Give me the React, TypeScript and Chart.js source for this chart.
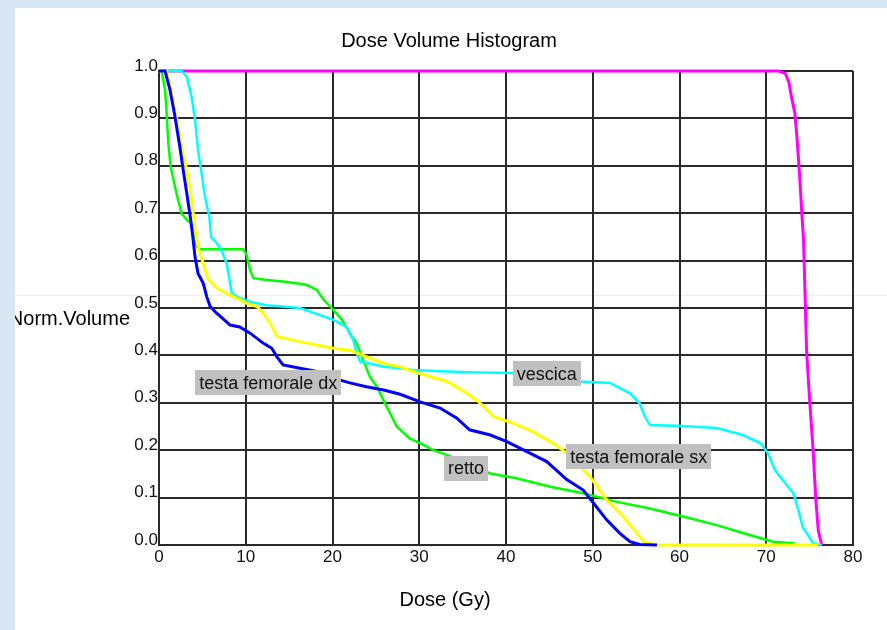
import React, { useEffect, useRef } from "react";
import { Chart, registerables } from "chart.js";

Chart.register(...registerables);

const chartTitle = "Dose Volume Histogram";
const xAxisTitle = "Dose (Gy)";
const yAxisTitle = "Norm.Volume";

const xTicks = [0, 10, 20, 30, 40, 50, 60, 70, 80];
const yTicks = [0, 0.1, 0.2, 0.3, 0.4, 0.5, 0.6, 0.7, 0.8, 0.9, 1.0];

// testa femorale dx (blue)
const dxDose = [0, 0.7, 1.27, 1.84, 2.4, 2.8, 3.2, 3.6, 3.9, 4.15, 4.5, 5.1, 5.5, 5.9, 6.65, 8.2, 9.3, 10.5, 12.0, 13.0, 13.6, 14.3, 16.25, 18.2, 20.1, 22.0, 23.9, 25.9, 27.8, 30.1, 32.4, 34.3, 35.8, 38.2, 40.1, 42.4, 44.7, 47.0, 48.9, 50.1, 51.6, 53.1, 54.3, 55.4, 57.4];
const dxVol = [1, 1, 0.96, 0.904, 0.84, 0.79, 0.742, 0.693, 0.65, 0.608, 0.573, 0.552, 0.524, 0.503, 0.489, 0.464, 0.46, 0.447, 0.426, 0.415, 0.397, 0.38, 0.373, 0.366, 0.352, 0.342, 0.334, 0.327, 0.318, 0.302, 0.289, 0.268, 0.243, 0.232, 0.218, 0.197, 0.176, 0.138, 0.116, 0.088, 0.053, 0.025, 0.007, 0.001, 0];

// testa femorale sx (yellow)
const sxDose = [0, 0.9, 1.45, 2.0, 2.6, 3.2, 3.6, 3.9, 4.15, 4.5, 5.1, 5.7, 6.65, 7.8, 8.95, 10.1, 11.3, 12.0, 12.8, 13.6, 14.3, 16.25, 18.2, 20.1, 22.0, 25.9, 27.8, 29.3, 33.2, 35.5, 37.0, 38.5, 40.8, 43.1, 45.4, 47.0, 49.7, 51.6, 53.5, 55.1, 56.0, 57.4, 76.0];
const sxVol = [1, 1, 0.953, 0.904, 0.84, 0.79, 0.749, 0.707, 0.665, 0.629, 0.594, 0.559, 0.542, 0.531, 0.521, 0.51, 0.503, 0.489, 0.468, 0.44, 0.437, 0.429, 0.422, 0.415, 0.411, 0.383, 0.376, 0.366, 0.345, 0.32, 0.3, 0.271, 0.257, 0.239, 0.215, 0.194, 0.144, 0.095, 0.06, 0.025, 0.005, 0, 0];

// vescica (cyan)
const vesDose = [0, 2.6, 3.2, 3.75, 4.15, 4.5, 4.9, 5.3, 5.8, 6.0, 6.65, 7.2, 7.8, 8.2, 8.4, 9.3, 10.5, 12.4, 14.3, 16.25, 18.6, 20.1, 21.6, 22.4, 22.8, 23.2, 24.3, 25.9, 27.8, 29.3, 33.2, 37.0, 40.8, 44.7, 48.5, 52.0, 54.3, 55.4, 56.0, 56.6, 60.4, 64.3, 67.3, 69.3, 70.2, 71.0, 71.9, 73.1, 73.7, 74.2, 75.4, 76.4];
const vesVol = [1, 1, 0.988, 0.946, 0.897, 0.833, 0.785, 0.735, 0.693, 0.65, 0.637, 0.622, 0.594, 0.552, 0.531, 0.521, 0.513, 0.506, 0.503, 0.5, 0.485, 0.475, 0.46, 0.432, 0.404, 0.387, 0.383, 0.376, 0.373, 0.369, 0.366, 0.364, 0.363, 0.356, 0.345, 0.342, 0.32, 0.299, 0.271, 0.253, 0.251, 0.247, 0.232, 0.215, 0.194, 0.158, 0.137, 0.11, 0.074, 0.038, 0.004, 0];

// retto (green)
const rettoDose = [0, 0.3, 0.7, 0.9, 1.07, 1.35, 1.84, 2.2, 2.6, 3.2, 3.75, 4.35, 4.7, 9.7, 10.1, 10.5, 10.9, 12.4, 14.3, 17.0, 18.2, 19.0, 19.9, 21.1, 22.0, 22.8, 23.55, 24.3, 25.1, 26.25, 27.4, 28.9, 30.5, 31.6, 33.2, 38.2, 41.2, 45.1, 48.9, 52.8, 56.6, 60.4, 64.3, 68.1, 70.8, 73.3];
const rettoVol = [1, 1, 0.96, 0.904, 0.848, 0.798, 0.756, 0.728, 0.7, 0.686, 0.679, 0.629, 0.624, 0.624, 0.612, 0.58, 0.563, 0.559, 0.556, 0.549, 0.538, 0.517, 0.5, 0.475, 0.447, 0.425, 0.39, 0.355, 0.334, 0.292, 0.25, 0.225, 0.211, 0.2, 0.19, 0.151, 0.141, 0.123, 0.109, 0.091, 0.077, 0.06, 0.042, 0.021, 0.007, 0.003];

// target (magenta)
const ptvDose = [0, 71.4, 72.2, 72.6, 72.9, 73.3, 73.5, 73.7, 73.9, 74.1, 74.3, 74.65, 75.0, 75.4, 75.7, 76.0, 76.4];
const ptvVol = [1, 1, 0.995, 0.977, 0.946, 0.911, 0.869, 0.819, 0.764, 0.7, 0.643, 0.41, 0.306, 0.2, 0.1, 0.03, 0];

// in-plot labels
const labelTexts = ["testa femorale dx", "vescica", "retto", "testa femorale sx"];
const labelDose = [12.6, 44.7, 35.4, 55.3];
const labelVol = [0.342, 0.361, 0.162, 0.186];

const FONT = "'Liberation Sans', Arial, Helvetica, sans-serif";

function zip(xs: number[], ys: number[]) {
  return xs.map((x, i) => ({ x, y: ys[i] }));
}

const overlayPlugin = {
  id: "overlay",
  afterDraw(chart: any) {
    const ctx = chart.ctx;
    const xs = chart.scales.x;
    const ys = chart.scales.y;
    ctx.save();
    ctx.fillStyle = "#000";
    ctx.textBaseline = "middle";
    ctx.font = `20px ${FONT}`;
    ctx.textAlign = "center";
    ctx.fillText(chartTitle, 434, 33);
    ctx.fillText(xAxisTitle, 430, 592);
    ctx.textAlign = "right";
    ctx.fillText(yAxisTitle, 115, 311);
    ctx.font = `18px ${FONT}`;
    ctx.textAlign = "center";
    labelTexts.forEach((t, i) => {
      const cx = xs.getPixelForValue(labelDose[i]);
      const cy = ys.getPixelForValue(labelVol[i]);
      const w = ctx.measureText(t).width + 8;
      const h = 25;
      ctx.fillStyle = "#c0c0c0";
      ctx.fillRect(Math.round(cx - w / 2), Math.round(cy - h / 2), Math.round(w), h);
      ctx.fillStyle = "#111";
      ctx.fillText(t, cx, cy + 1);
    });
    ctx.restore();
  },
};

export default function App() {
  const ref = useRef<HTMLCanvasElement | null>(null);
  useEffect(() => {
    if (!ref.current) return;
    const mk = (label: string, xs: number[], ys: number[], color: string, w: number) => ({
      label,
      data: zip(xs, ys),
      borderColor: color,
      backgroundColor: color,
      borderWidth: w,
      pointRadius: 0,
      tension: 0,
      fill: false,
      clip: false as any,
    });
    const chart = new Chart(ref.current, {
      type: "line",
      data: {
        datasets: [
          mk("testa femorale dx", dxDose, dxVol, "#0000ff", 3),
          mk("testa femorale sx", sxDose, sxVol, "#ffff00", 3),
          mk("vescica", vesDose, vesVol, "#00ffff", 2.5),
          mk("retto", rettoDose, rettoVol, "#00ff00", 2.5),
          mk("PTV", ptvDose, ptvVol, "#ff00ff", 3),
        ],
      },
      options: {
        animation: false,
        responsive: false,
        events: [],
        layout: { padding: { left: 0, right: 34, top: 63, bottom: 0 } },
        plugins: { legend: { display: false }, title: { display: false }, tooltip: { enabled: false } },
        scales: {
          x: {
            type: "linear",
            min: 0,
            max: 80,
            afterFit: (s: any) => { s.height = 85; },
            afterBuildTicks: (s: any) => { s.ticks = xTicks.map((v) => ({ value: v })); },
            ticks: { color: "#111", font: { family: FONT, size: 17 }, padding: 2, maxRotation: 0 },
            grid: { color: "#2a2a2a", lineWidth: 2, drawTicks: false },
            border: { color: "#2a2a2a", width: 2 },
          },
          y: {
            type: "linear",
            min: 0,
            max: 1,
            afterFit: (s: any) => { s.width = 144; },
            afterBuildTicks: (s: any) => { s.ticks = yTicks.map((v) => ({ value: v })); },
            ticks: {
              color: "#111",
              font: { family: FONT, size: 17 },
              padding: 1,
              labelOffset: -5,
              callback: (v: any) => Number(v).toFixed(1),
            },
            grid: { color: "#2a2a2a", lineWidth: 2, drawTicks: false },
            border: { color: "#2a2a2a", width: 2 },
          },
        },
      },
      plugins: [overlayPlugin],
    });
    return () => chart.destroy();
  }, []);
  return (
    <div style={{ position: "fixed", left: 0, top: 0, width: 887, height: 630, background: "#d9e7f5", overflow: "hidden" }}>
      <div style={{ position: "absolute", left: 15, top: 8, width: 872, height: 622, background: "#fff" }}>
        <div style={{ position: "absolute", left: 0, top: 287, width: 872, height: 1, background: "#e6eef8" }} />
        <canvas ref={ref} width={872} height={622} style={{ display: "block", position: "relative" }} />
      </div>
    </div>
  );
}
